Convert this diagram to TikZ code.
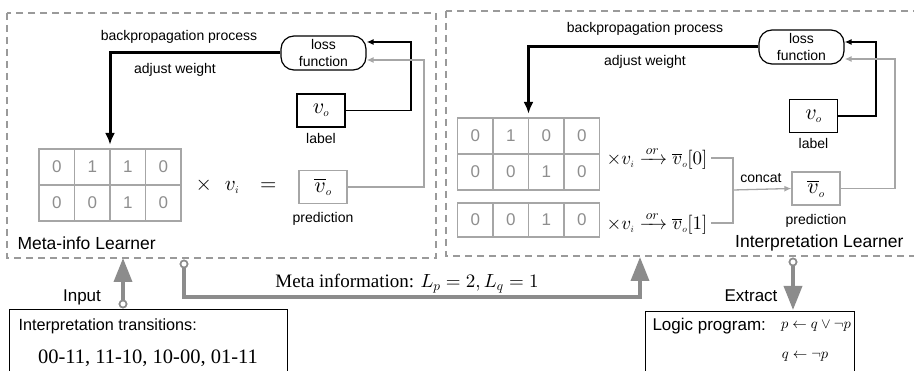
\documentclass[tikz,border=0pt]{standalone}
\usepackage{amsmath, amssymb}
\usepackage[no-math]{fontspec}
\setmainfont{Liberation Sans}
\newfontfamily\timesfont{Liberation Serif}
\usepackage{xcolor}
\usetikzlibrary{arrows.meta, matrix, positioning}
\DeclareFontShape{OML}{cmm}{m}{it}{<->cmmi10}{}
\DeclareFontShape{OMS}{cmsy}{m}{n}{<->cmsy10}{}
\DeclareFontShape{OT1}{cmr}{m}{n}{<->cmr10}{}

\definecolor{panelgray}{HTML}{9A9A9A}
\definecolor{flowgray}{HTML}{8C8C8C}
\definecolor{cellgray}{HTML}{A6A6A6}
\definecolor{digitgray}{HTML}{8E8E8E}

\newcommand{\vsub}[1]{v_{\scriptscriptstyle #1}}

\tikzset{
  panel/.style={draw=panelgray, line width=1.2pt, dash pattern=on 7pt off 5pt},
  title/.style={font=\fontsize{17.5}{20}\selectfont},
  big/.style={font=\fontsize{17}{20}\selectfont},
  note/.style={font=\fontsize{14}{16}\selectfont},
  lossbox/.style={draw, line width=1.2pt, rounded corners=13pt, minimum width=85pt,
    minimum height=34pt, align=center, inner sep=0pt, font=\fontsize{14}{16.5}\selectfont},
  vbox/.style={draw, line width=1.2pt, minimum width=48pt, minimum height=33pt,
    font=\fontsize{22}{22}\selectfont},
  predbox/.style={draw=cellgray, line width=1.2pt, minimum width=48pt, minimum height=33pt,
    font=\fontsize{22}{22}\selectfont},
  cell/.style={draw=cellgray, line width=1.3pt, minimum width=35.5pt, minimum height=36pt,
    inner sep=0pt, text=digitgray, font=\fontsize{17}{17}\selectfont},
  bits/.style={matrix of nodes, nodes={cell}, column sep=-1.3pt, row sep=-1.3pt},
  mathtxt/.style={font=\fontsize{19}{19}\selectfont},
  serif/.style={font=\timesfont\fontsize{19}{22}\selectfont},
  logic/.style={font=\fontsize{14.5}{16}\selectfont},
  outbox/.style={draw, line width=1.3pt},
  backprop/.style={line width=3pt, -{Latex[length=12pt, width=10pt]}},
  fb/.style={line width=1.4pt, -{Latex[length=7pt, width=6pt]}},
  gfb/.style={draw=cellgray, line width=1.3pt, -{Latex[length=7pt, width=6pt]}},
  gline/.style={draw=cellgray, line width=1.3pt},
  flow/.style={draw=flowgray, line width=3.5pt, -{Triangle[length=24pt, width=18pt]}},
  tail/.style={circle, draw=flowgray, fill=white, line width=1.6pt, minimum size=7pt, inner sep=0pt},
}

\begin{document}
\begin{tikzpicture}[x=1pt, y=-1pt, >=latex]
    \useasboundingbox (0,0) rectangle (914,371);
    \clip (0,0) rectangle (914,371);

    % 1. Hai khung học
    \draw[panel] (7,13) rectangle (436,258);
    \draw[panel] (446,11) rectangle (930,256);
    \node[title, anchor=west] (metaname) at (14,243) {Meta-info Learner};
    \node[title, anchor=east] (interpname) at (907,243) {Interpretation Learner};

    % 2. Khung trái
    \node[lossbox] (loss1) at (323.5,53) {loss\\function};
    \node[vbox] (lab1) at (321,110.5) {$\vsub{o}$};
    \node[note, below=2pt of lab1] (labtxt1) {label};
    \node[predbox] (pred1) at (323,187) {$\overline{v}_{\scriptscriptstyle o}$};
    \node[note, below=5pt of pred1] (predtxt1) {prediction};
    \matrix (mat1) [bits] at (110,185) {0 & 1 & 1 & 0\\ 0 & 0 & 1 & 0\\};
    \node[mathtxt, font=\fontsize{21}{21}\selectfont] (mul1) at (236,186)
        {$\times\hspace{13pt}\vsub{i}\hspace{15pt}=$};

    \draw[backprop] (loss1.west) -| (mat1.north);
    \node[note] (bp1) at (179,37) {backpropagation process};
    \node[note] (aw1) at (175,70) {adjust weight};
    \coordinate (k1) at (411,42);
    \draw[fb] (lab1.east) -| (k1) -- (k1 -| loss1.east);
    \coordinate (g1) at (424,60);
    \draw[gfb] (pred1.east) -| (g1) -- (g1 -| loss1.east);

    % 3. Khung phải
    \node[lossbox] (loss2) at (801.5,47) {loss\\function};
    \node[vbox] (lab2) at (813.5,116) {$\vsub{o}$};
    \node[note, below=2pt of lab2] (labtxt2) {label};
    \node[predbox] (pred2) at (816,188.5) {$\overline{v}_{\scriptscriptstyle o}$};
    \node[note, below=5pt of pred2] (predtxt2) {prediction};
    \matrix (mat2) [bits] at (528.5,154) {0 & 1 & 0 & 0\\ 0 & 0 & 1 & 0\\};
    \matrix (mat3) [bits, nodes={minimum height=34pt}] at (528.5,220) {0 & 0 & 1 & 0\\};
    \node[mathtxt, anchor=west] (res0) at (603,158)
        {$\times \vsub{i} \xrightarrow{\,or\,} \overline{v}_{\scriptscriptstyle o}[0]$};
    \node[mathtxt, anchor=west] (res1) at (603,223)
        {$\times \vsub{i} \xrightarrow{\,or\,} \overline{v}_{\scriptscriptstyle o}[1]$};
    \coordinate (cat) at (733,190);
    \draw[gline] (res0.east) -| (cat);
    \draw[gline] (res1.east) -| (cat);
    \draw[gfb] (cat) -- (pred2.west);
    \node[note] (cattxt) at (761,178) {concat};

    \draw[backprop] (loss2.west) -| (mat2.north);
    \node[note] (bp2) at (645,29) {backpropagation process};
    \node[note] (aw2) at (645,62) {adjust weight};
    \coordinate (k2) at (876,42);
    \draw[fb] (lab2.east) -| (k2) -- (k2 -| loss2.east);
    \coordinate (g2) at (895,59);
    \draw[gfb] (pred2.east) -| (g2) -- (g2 -| loss2.east);

    % 4. Đầu vào và đầu ra
    \node[outbox, anchor=north west, minimum width=278pt, minimum height=90pt] (trans) at (9,309) {};
    \node[big, anchor=west, font=\fontsize{16.2}{20}\selectfont] (transtxt) at (15,326) {Interpretation transitions:};
    \node[serif, font=\timesfont\fontsize{20.5}{22}\selectfont] (transval) at (148,358)
        {00-11, 11-10, 10-00, 01-11};
    \node[outbox, anchor=north west, minimum width=209pt, minimum height=90pt] (prog) at (645,311) {};
    \node[big, anchor=west] (progtxt) at (649,326) {Logic program:};
    \node[logic] (rule1) at (816,326) {$p \leftarrow q \vee \neg p$};
    \node[logic] (rule2) at (805,357) {$q \leftarrow \neg p$};

    % 5. Các mũi tên lớn
    \coordinate (in1) at (123,258);
    \node[tail] (in0) at (123,304) {};
    \draw[flow] (in0) -- (in1);
    \node[tail] at (in0) {};
    \node[big] (intxt) at (82,297) {Input};

    \coordinate (mi1) at (640,257);
    \coordinate (mib) at (184,297);
    \node[tail] (mi0) at (184,264) {};
    \draw[flow] (mi0) -- (mib) -| (mi1);
    \node[tail] at (mi0) {};
    \node[serif] (metainfo) at (407,284) {Meta information: $L_p = 2, L_q = 1$};

    \coordinate (ex1) at (793,310);
    \node[tail] (ex0) at (793,262) {};
    \draw[flow] (ex0) -- (ex1);
    \node[tail] at (ex0) {};
    \node[big] (extxt) at (751,296) {Extract};
\end{tikzpicture}
\end{document}
